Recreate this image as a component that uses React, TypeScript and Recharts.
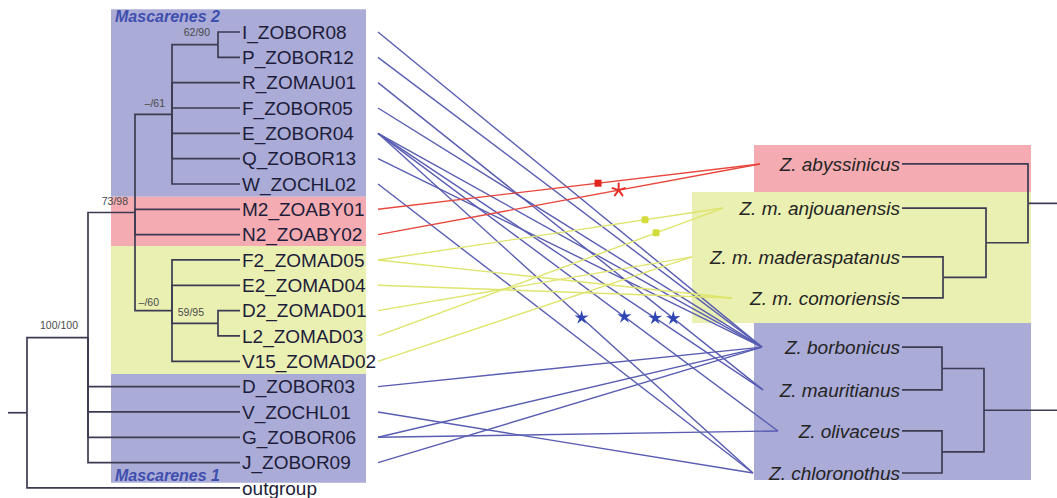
import React from 'react';
import { ComposedChart, Line, Scatter, XAxis, YAxis, ReferenceArea } from 'recharts';

const W = 1057;
const H = 498;

// Haplotypes at the tips of the left tree, top to bottom
const haplotypes = [
  'I_ZOBOR08', 'P_ZOBOR12', 'R_ZOMAU01', 'F_ZOBOR05', 'E_ZOBOR04', 'Q_ZOBOR13', 'W_ZOCHL02',
  'M2_ZOABY01', 'N2_ZOABY02',
  'F2_ZOMAD05', 'E2_ZOMAD04', 'D2_ZOMAD01', 'L2_ZOMAD03', 'V15_ZOMAD02',
  'D_ZOBOR03', 'V_ZOCHL01', 'G_ZOBOR06', 'J_ZOBOR09',
  'outgroup',
];

// Left tree clades: [node, support (ML/BI), children]
const leftClades: [string, string, string[]][] = [
  ['root', '', ['A', 'outgroup']],
  ['A', '100/100', ['B', 'D_ZOBOR03', 'V_ZOCHL01', 'G_ZOBOR06', 'J_ZOBOR09']],
  ['B', '73/98', ['M', 'M2_ZOABY01', 'N2_ZOABY02', 'C']],
  ['M', '\u2013/61', ['IP', 'R_ZOMAU01', 'F_ZOBOR05', 'E_ZOBOR04', 'Q_ZOBOR13', 'W_ZOCHL02']],
  ['IP', '62/90', ['I_ZOBOR08', 'P_ZOBOR12']],
  ['C', '\u2013/60', ['F2_ZOMAD05', 'E2_ZOMAD04', 'DL', 'V15_ZOMAD02']],
  ['DL', '59/95', ['D2_ZOMAD01', 'L2_ZOMAD03']],
];

// Species at the tips of the right tree, top to bottom
const species = [
  'Z. abyssinicus', 'Z. m. anjouanensis', 'Z. m. maderaspatanus', 'Z. m. comoriensis',
  'Z. borbonicus', 'Z. mauritianus', 'Z. olivaceus', 'Z. chloronothus',
];

// Right tree clades: [node, children]
const rightClades: [string, string[]][] = [
  ['T1', ['Z. abyssinicus', 'N1']],
  ['N1', ['Z. m. anjouanensis', 'N2']],
  ['N2', ['Z. m. maderaspatanus', 'Z. m. comoriensis']],
  ['T2', ['N3', 'N4']],
  ['N3', ['Z. borbonicus', 'Z. mauritianus']],
  ['N4', ['Z. olivaceus', 'Z. chloronothus']],
];

// Haplotype -> species associations, with lineage
const links: [string, string, string][] = [
  ['I_ZOBOR08', 'Z. borbonicus', 'masc'],
  ['P_ZOBOR12', 'Z. borbonicus', 'masc'],
  ['R_ZOMAU01', 'Z. mauritianus', 'masc'],
  ['F_ZOBOR05', 'Z. borbonicus', 'masc'],
  ['E_ZOBOR04', 'Z. borbonicus', 'masc'],
  ['E_ZOBOR04', 'Z. mauritianus', 'masc'],
  ['E_ZOBOR04', 'Z. olivaceus', 'masc'],
  ['E_ZOBOR04', 'Z. chloronothus', 'masc'],
  ['Q_ZOBOR13', 'Z. borbonicus', 'masc'],
  ['W_ZOCHL02', 'Z. chloronothus', 'masc'],
  ['M2_ZOABY01', 'Z. abyssinicus', 'aby'],
  ['N2_ZOABY02', 'Z. abyssinicus', 'aby'],
  ['F2_ZOMAD05', 'Z. m. anjouanensis', 'mad'],
  ['F2_ZOMAD05', 'Z. m. comoriensis', 'mad'],
  ['E2_ZOMAD04', 'Z. m. comoriensis', 'mad'],
  ['D2_ZOMAD01', 'Z. m. maderaspatanus', 'mad'],
  ['L2_ZOMAD03', 'Z. m. anjouanensis', 'mad'],
  ['V15_ZOMAD02', 'Z. m. maderaspatanus', 'mad'],
  ['D_ZOBOR03', 'Z. borbonicus', 'masc'],
  ['V_ZOCHL01', 'Z. chloronothus', 'masc'],
  ['G_ZOBOR06', 'Z. borbonicus', 'masc'],
  ['G_ZOBOR06', 'Z. olivaceus', 'masc'],
  ['J_ZOBOR09', 'Z. borbonicus', 'masc'],
];

// Marks placed along association lines: [haplotype, species, fraction along the line, kind]
const linkMarks: [string, string, number, string][] = [
  ['M2_ZOABY01', 'Z. abyssinicus', 0.576, 'square'],
  ['N2_ZOABY02', 'Z. abyssinicus', 0.63, 'asterisk'],
  ['F2_ZOMAD05', 'Z. m. anjouanensis', 0.774, 'dot'],
  ['L2_ZOMAD03', 'Z. m. anjouanensis', 0.806, 'dot'],
  ['E_ZOBOR04', 'Z. chloronothus', 0.543, 'star'],
  ['E_ZOBOR04', 'Z. olivaceus', 0.616, 'star'],
  ['E_ZOBOR04', 'Z. mauritianus', 0.72, 'star'],
  ['R_ZOMAU01', 'Z. mauritianus', 0.767, 'star'],
];

// ---------- layout ----------
const ROW0 = 32;
const ROW_H = 25.33;
const yDomain: [number, number] = [-ROW0 / ROW_H, (H - ROW0) / ROW_H];

const LEFT_TIP_X = 240;
const LEFT_ROOT_STUB_X = 8;
const leftNodeX: Record<string, number> = { root: 27, A: 88, B: 135, M: 172, IP: 218, C: 172, DL: 218 };
const LINK_START_X = 378;

const RIGHT_TIP_X = 902;
const RIGHT_LABEL_X = 900;
const rightNodeX: Record<string, number> = { T1: 1028, N1: 986, N2: 943, T2: 984, N3: 942, N4: 942 };
const speciesRow = [5.21, 6.95, 8.88, 10.5, 12.44, 14.13, 15.75, 17.41];
const speciesLinkX = [760, 723, 692, 732, 762, 763, 778, 753];

// support label offsets from their node, in px: [dx, dy]
const supportOffset: Record<string, [number, number]> = {
  A: [-10, -9], B: [-7, -7], M: [-7, -7], IP: [-8, -9], C: [-13, -5], DL: [-14, -7],
};

const boxes = [
  { x1: 111, x2: 366, y1: -0.9, y2: 6.5, fill: '#ababd7' },
  { x1: 111, x2: 366, y1: 6.5, y2: 8.45, fill: '#f4abb1' },
  { x1: 111, x2: 366, y1: 8.45, y2: 13.5, fill: '#eaf0b2' },
  { x1: 111, x2: 366, y1: 13.5, y2: 17.8, fill: '#ababd7' },
  { x1: 754, x2: 1031, y1: 4.46, y2: 6.32, fill: '#f4abb1' },
  { x1: 692, x2: 1031, y1: 6.32, y2: 11.49, fill: '#eaf0b2' },
  { x1: 754, x2: 1031, y1: 11.49, y2: 17.69, fill: '#ababd7' },
];

const cladeTitles = [
  { text: 'Mascarenes 2', x: 115, y: -0.62 },
  { text: 'Mascarenes 1', x: 115, y: 17.5 },
];

const linkColor: Record<string, string> = { masc: '#585db2', aby: '#e8473d', mad: '#dfe46c' };
const TREE_COLOR = '#3d3b52';
const FONT = '"Liberation Sans", Arial, Helvetica, sans-serif';

// ---------- derived geometry ----------
type Pt = { x: number; y: number };

const tipRow: Record<string, number> = Object.fromEntries(haplotypes.map((h, i) => [h, i]));
const leftKids: Record<string, string[]> = Object.fromEntries(leftClades.map(([n, , c]) => [n, c]));
const leftRow = (id: string): number => {
  if (id in tipRow) return tipRow[id];
  const c = leftKids[id];
  return (leftRow(c[0]) + leftRow(c[c.length - 1])) / 2;
};
const leftX = (id: string) => (id in tipRow ? LEFT_TIP_X : leftNodeX[id]);

const spRow: Record<string, number> = Object.fromEntries(species.map((s, i) => [s, speciesRow[i]]));
const spLinkX: Record<string, number> = Object.fromEntries(species.map((s, i) => [s, speciesLinkX[i]]));
const rightKids: Record<string, string[]> = Object.fromEntries(rightClades);
const rightRow = (id: string): number => {
  if (id in spRow) return spRow[id];
  const c = rightKids[id];
  return (rightRow(c[0]) + rightRow(c[c.length - 1])) / 2;
};
const rightX = (id: string) => (id in spRow ? RIGHT_TIP_X : rightNodeX[id]);

const elbow = (nx: number, ny: number, cx: number, cy: number): Pt[] => [
  { x: nx, y: ny }, { x: nx, y: cy }, { x: cx, y: cy },
];

const leftBranches: Pt[][] = [];
leftClades.forEach(([n, , kids]) => {
  const nx = leftX(n);
  const ny = leftRow(n);
  kids.forEach((k) => leftBranches.push(elbow(nx, ny, leftX(k), leftRow(k))));
});
leftBranches.push([{ x: LEFT_ROOT_STUB_X, y: leftRow('root') }, { x: leftX('root'), y: leftRow('root') }]);

const rightBranches: Pt[][] = [];
rightClades.forEach(([n, kids]) => {
  const nx = rightX(n);
  const ny = rightRow(n);
  kids.forEach((k) => rightBranches.push(elbow(nx, ny, rightX(k), rightRow(k))));
});
['T1', 'T2'].forEach((t) => rightBranches.push([{ x: rightX(t), y: rightRow(t) }, { x: W, y: rightRow(t) }]));

const linkLines = links.map(([h, s, g]) => ({
  color: linkColor[g],
  data: [{ x: LINK_START_X, y: tipRow[h] }, { x: spLinkX[s], y: spRow[s] }],
}));

const markData = linkMarks.map(([h, s, t, kind]) => {
  const x0 = LINK_START_X, y0 = tipRow[h], x1 = spLinkX[s], y1 = spRow[s];
  return { x: x0 + (x1 - x0) * t, y: y0 + (y1 - y0) * t, kind };
});

const tipLabels = haplotypes.map((h, i) => ({ x: LEFT_TIP_X + 2, y: i, text: h }));
const speciesLabels = species.map((s) => ({ x: RIGHT_LABEL_X, y: spRow[s], text: s }));
const supportLabels = leftClades
  .filter(([, s]) => s)
  .map(([n, s]) => ({ x: leftX(n), y: leftRow(n), text: s, node: n }));

// ---------- shapes ----------
const TipText = (p: any) => (
  <text x={p.cx} y={p.cy} dy="0.35em" fontFamily={FONT} fontSize={19} fill="#1d1d3a">
    {p.payload.text}
  </text>
);

const SpeciesText = (p: any) => (
  <text x={p.cx} y={p.cy} dy="0.35em" textAnchor="end" fontFamily={FONT} fontSize={19}
    fontStyle="italic" fill="#242424">
    {p.payload.text}
  </text>
);

const SupportText = (p: any) => {
  const [dx, dy] = supportOffset[p.payload.node] || [-8, -7];
  return (
    <text x={p.cx + dx} y={p.cy + dy} textAnchor="end" fontFamily={FONT} fontSize={10.5} fill="#4a4a4a">
      {p.payload.text}
    </text>
  );
};

const TitleText = (p: any) => (
  <text x={p.cx} y={p.cy} dy="0.35em" fontFamily={FONT} fontSize={16} fontWeight="bold"
    fontStyle="italic" fill="#3e4fae">
    {p.payload.text}
  </text>
);

const starPoints = (cx: number, cy: number, R: number, r: number) => {
  const pts: string[] = [];
  for (let i = 0; i < 10; i++) {
    const a = -Math.PI / 2 + (i * Math.PI) / 5;
    const rad = i % 2 === 0 ? R : r;
    pts.push(`${cx + rad * Math.cos(a)},${cy + rad * Math.sin(a)}`);
  }
  return pts.join(' ');
};

const MarkShape = (p: any) => {
  const { cx, cy } = p;
  const kind = p.payload.kind;
  if (kind === 'square') return <rect x={cx - 3.5} y={cy - 3.5} width={7} height={7} fill="#e3231d" />;
  if (kind === 'dot') return <rect x={cx - 3.5} y={cy - 3.5} width={7} height={7} rx={1.5} fill="#d3dc3b" />;
  if (kind === 'asterisk') {
    const arms = [0, 1, 2, 3, 4].map((i) => {
      const a = -Math.PI / 2 + (i * 2 * Math.PI) / 5;
      return (
        <line key={i} x1={cx} y1={cy} x2={cx + 6.5 * Math.cos(a)} y2={cy + 6.5 * Math.sin(a)}
          stroke="#e5302a" strokeWidth={2} strokeLinecap="round" />
      );
    });
    return <g>{arms}</g>;
  }
  return <polygon points={starPoints(cx, cy, 7.5, 2.6)} fill="#2f46b2" />;
};

export default function App() {
  return (
    <div style={{ position: 'absolute', left: 0, top: 0, width: W, height: H, background: '#ffffff' }}>
      <ComposedChart width={W} height={H} margin={{ top: 0, right: 0, bottom: 0, left: 0 }}>
        <XAxis type="number" dataKey="x" domain={[0, W]} hide allowDataOverflow />
        <YAxis type="number" dataKey="y" domain={yDomain} reversed hide allowDataOverflow />
        {boxes.map((b, i) => (
          <ReferenceArea key={'box' + i} x1={b.x1} x2={b.x2} y1={b.y1} y2={b.y2}
            fill={b.fill} fillOpacity={1} stroke="none" ifOverflow="visible" />
        ))}
        {leftBranches.map((d, i) => (
          <Line key={'lb' + i} data={d} dataKey="y" type="linear" stroke={TREE_COLOR} strokeWidth={1.7}
            dot={false} activeDot={false} isAnimationActive={false} legendType="none" />
        ))}
        {rightBranches.map((d, i) => (
          <Line key={'rb' + i} data={d} dataKey="y" type="linear" stroke={TREE_COLOR} strokeWidth={1.7}
            dot={false} activeDot={false} isAnimationActive={false} legendType="none" />
        ))}
        {linkLines.map((l, i) => (
          <Line key={'ln' + i} data={l.data} dataKey="y" type="linear" stroke={l.color} strokeWidth={1.4}
            dot={false} activeDot={false} isAnimationActive={false} legendType="none" />
        ))}
        <Scatter data={tipLabels} shape={TipText} isAnimationActive={false} legendType="none" />
        <Scatter data={speciesLabels} shape={SpeciesText} isAnimationActive={false} legendType="none" />
        <Scatter data={supportLabels} shape={SupportText} isAnimationActive={false} legendType="none" />
        <Scatter data={cladeTitles} shape={TitleText} isAnimationActive={false} legendType="none" />
        <Scatter data={markData} shape={MarkShape} isAnimationActive={false} legendType="none" />
      </ComposedChart>
    </div>
  );
}
